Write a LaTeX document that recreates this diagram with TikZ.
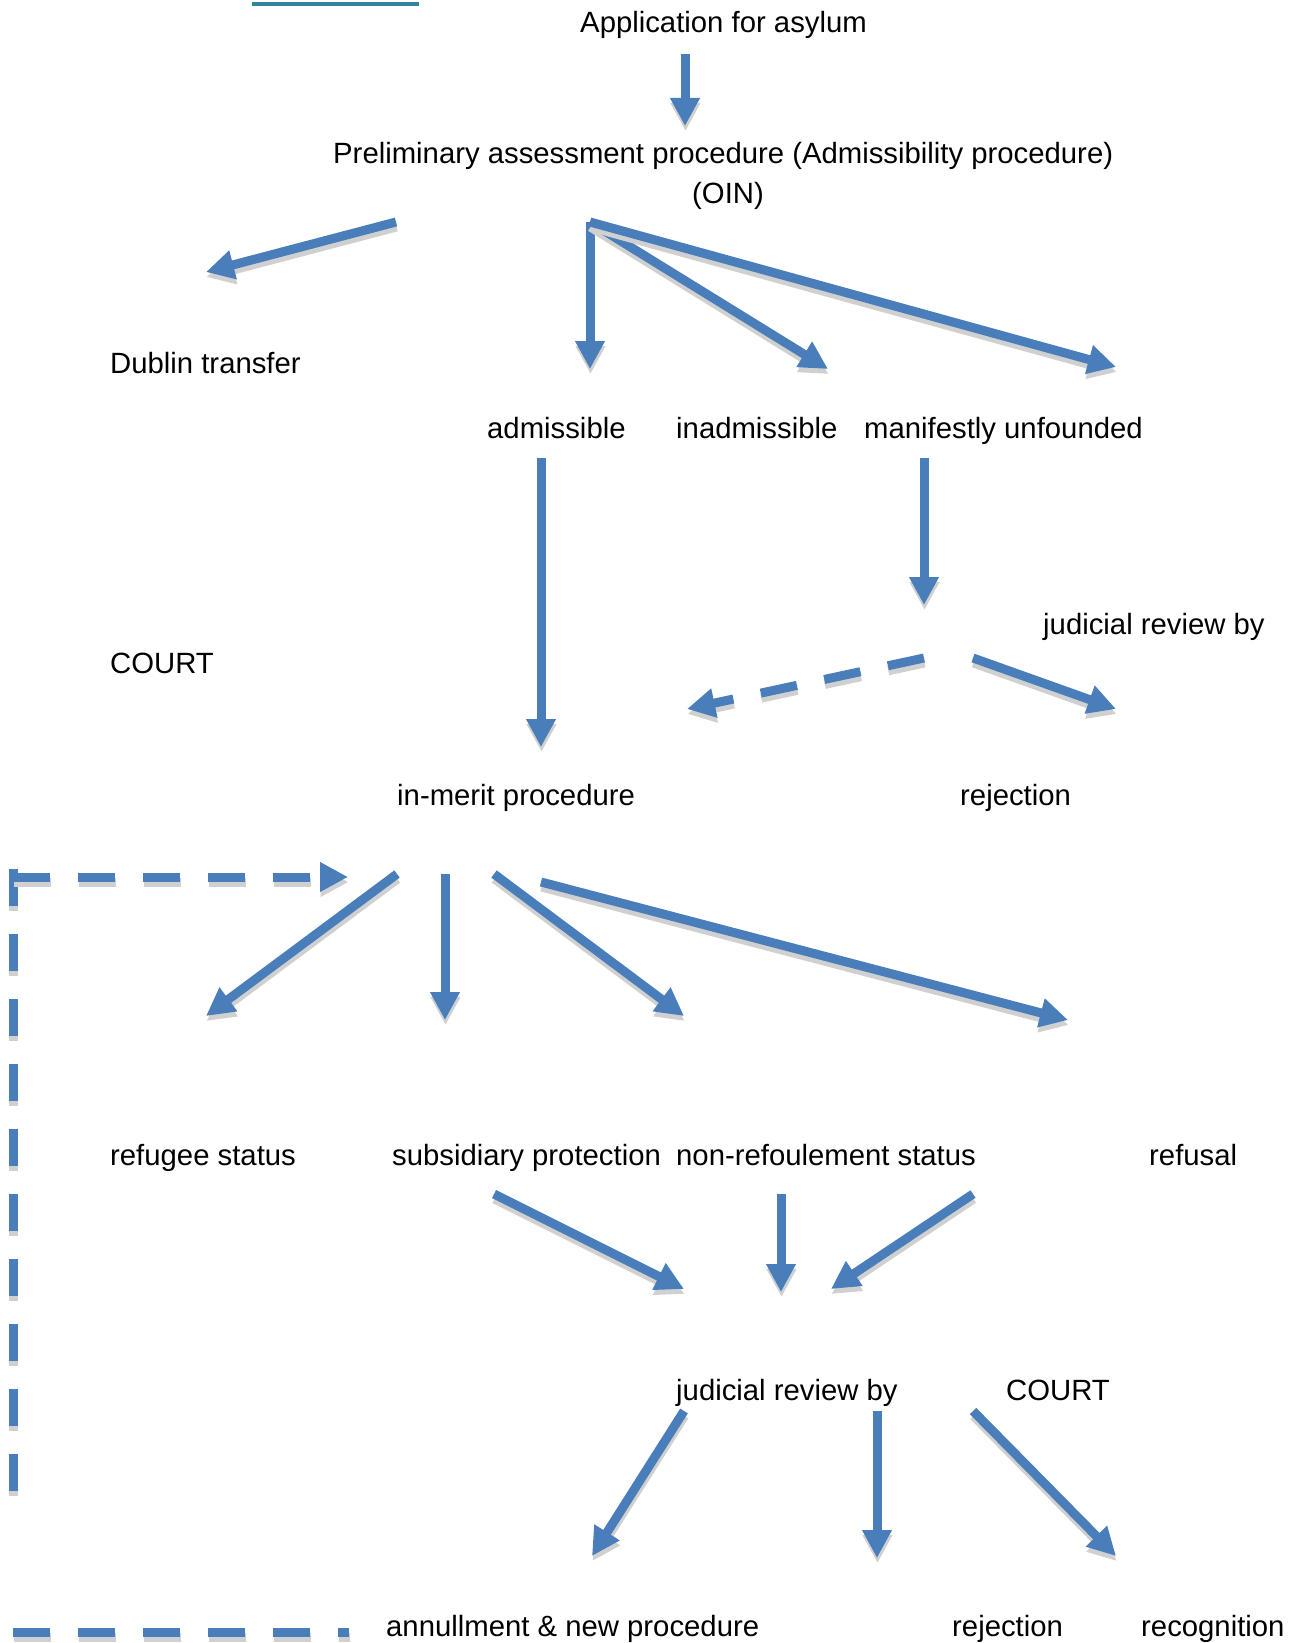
\documentclass[tikz,border=0pt]{standalone}
\usepackage{fontspec}
\setmainfont{Liberation Sans}
\usetikzlibrary{arrows.meta}
\definecolor{flowblue}{HTML}{4A7EBB}
\definecolor{shadowgray}{HTML}{D0D0D0}
\definecolor{linkteal}{HTML}{31849B}

\begin{document}
\begin{tikzpicture}[x=1pt,y=1pt,yscale=-1,xscale=1]
  \useasboundingbox (0,0) rectangle (1294,1643);
  \tikzstyle{flowtip} = [-{Triangle[width=28pt,length=28pt]}]
  \tikzstyle{arrow} = [draw=flowblue,line width=9pt,flowtip,
    preaction={draw=shadowgray,line width=9pt,flowtip,transform canvas={xshift=0.5pt,yshift=-5pt}}]
  \tikzstyle{dasharrow} = [draw=flowblue,line width=9pt,dash pattern=on 37pt off 28pt,flowtip,
    preaction={draw=shadowgray,line width=9pt,dash pattern=on 37pt off 28pt,flowtip,transform canvas={xshift=0.5pt,yshift=-5pt}}]
  \tikzstyle{dashline} = [draw=flowblue,line width=9pt,dash pattern=on 37pt off 28pt,
    preaction={draw=shadowgray,line width=9pt,dash pattern=on 37pt off 28pt,transform canvas={xshift=0.5pt,yshift=-5pt}}]
  \tikzstyle{label} = [anchor=base west,inner sep=0pt,font=\fontsize{29.3}{35}\selectfont]
  %Link underline cut off at the top
  \fill [linkteal] (252,2) rectangle (419,6);
  % Label the steps
  \node [label] (app) at (580,33) {Application for asylum};
  \node [label] (prelim) at (333,164) {Preliminary assessment procedure (Admissibility procedure)};
  \node [label] (oin) at (692,203) {(OIN)};
  \node [label] (dublin) at (110,373) {Dublin transfer};
  \node [label] (admissible) at (487,438) {admissible};
  \node [label] (inadmissible) at (676,438) {inadmissible};
  \node [label] (unfounded) at (864,438) {manifestly unfounded};
  \node [label] (review1) at (1043,634) {judicial review by};
  \node [label] (court1) at (110,673) {COURT};
  \node [label] (inmerit) at (397,805) {in-merit procedure};
  \node [label] (rejection1) at (960,805) {rejection};
  \node [label] (refugee) at (110,1165) {refugee status};
  \node [label] (subsidiary) at (392,1165) {subsidiary protection};
  \node [label] (nonrefoul) at (676,1165) {non-refoulement status};
  \node [label] (refusal) at (1149,1165) {refusal};
  \node [label] (review2) at (676,1400) {judicial review by};
  \node [label] (court2) at (1006,1400) {COURT};
  \node [label] (annul) at (386,1636) {annullment \& new procedure};
  \node [label] (rejection2) at (952,1636) {rejection};
  \node [label] (recognition) at (1141,1636) {recognition};
  % Arrow ends
  \coordinate (appout) at (685,54);   \coordinate (prelimin) at (685,126);
  \coordinate (dublinout) at (396,222); \coordinate (dublinin) at (206,272);
  \coordinate (prelimout) at (590,222);
  \coordinate (admin) at (590,369); \coordinate (inadmin) at (828,369); \coordinate (unfin) at (1116,367);
  \coordinate (admout) at (541,458); \coordinate (meritin) at (541,747);
  \coordinate (unfout) at (924,458); \coordinate (review1in) at (924,605);
  \coordinate (backout) at (924,658); \coordinate (backin) at (687,709);
  \coordinate (review1out) at (973,658); \coordinate (rej1in) at (1116,709);
  \coordinate (corner) at (13,877); \coordinate (cornertop) at (13,869);
  \coordinate (loopbot) at (13,1491); \coordinate (loopin) at (348,877);
  \coordinate (meritout1) at (397,874); \coordinate (refugeein) at (206,1016);
  \coordinate (meritout2) at (445,874); \coordinate (subsidin) at (445,1020);
  \coordinate (meritout3) at (494,874); \coordinate (nonrefin) at (684,1016);
  \coordinate (meritout4) at (541,882); \coordinate (refusalin) at (1068,1020);
  \coordinate (subsidout) at (494,1194); \coordinate (review2in1) at (684,1289);
  \coordinate (nonrefout) at (781,1194); \coordinate (review2in2) at (781,1292);
  \coordinate (refusalout) at (973,1194); \coordinate (review2in3) at (831,1289);
  \coordinate (review2out1) at (684,1411); \coordinate (annulin) at (592,1556);
  \coordinate (review2out2) at (877,1411); \coordinate (rej2in) at (877,1558);
  \coordinate (review2out3) at (973,1411); \coordinate (recogin) at (1116,1556);
  \coordinate (bottomleft) at (13,1632); \coordinate (bottomright) at (349,1632);
  %Draw the arrows of the admissibility stage
  \draw [arrow] (appout) -- (prelimin);
  \draw [arrow] (dublinout) -- (dublinin);
  \draw [arrow] (prelimout) -- (admin);
  \draw [arrow] (prelimout) -- (inadmin);
  \draw [arrow] (prelimout) -- (unfin);
  \draw [arrow] (admout) -- (meritin);
  \draw [arrow] (unfout) -- (review1in);
  \draw [dasharrow] (backout) -- (backin);
  \draw [arrow] (review1out) -- (rej1in);
  %Draw the loop back to the in-merit procedure
  \draw [dashline] (cornertop) -- (loopbot);
  \draw [dasharrow] (corner) -- (loopin);
  \draw [dashline] (bottomleft) -- (bottomright);
  %Draw the arrows of the in-merit stage
  \draw [arrow] (meritout1) -- (refugeein);
  \draw [arrow] (meritout2) -- (subsidin);
  \draw [arrow] (meritout3) -- (nonrefin);
  \draw [arrow] (meritout4) -- (refusalin);
  \draw [arrow] (subsidout) -- (review2in1);
  \draw [arrow] (nonrefout) -- (review2in2);
  \draw [arrow] (refusalout) -- (review2in3);
  %Draw the arrows of the court stage
  \draw [arrow] (review2out1) -- (annulin);
  \draw [arrow] (review2out2) -- (rej2in);
  \draw [arrow] (review2out3) -- (recogin);
\end{tikzpicture}
\end{document}
